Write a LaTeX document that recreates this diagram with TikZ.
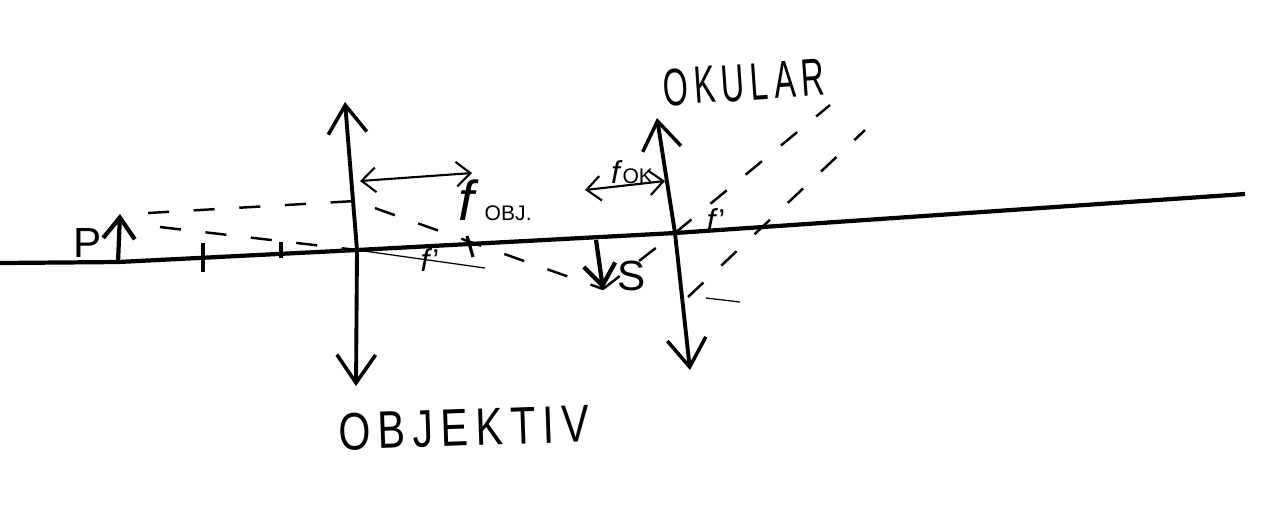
\documentclass[tikz,border=0pt]{standalone}
\usepackage{fontspec}
\setmainfont{Liberation Sans}
\newfontfamily\wide[LetterSpace=18]{Liberation Sans}
\usetikzlibrary{arrows.meta}
\tikzset{
  lens/.style={line width=1.1pt,{Straight Barb[length=8pt,width=11pt,line width=1pt]}-{Straight Barb[length=8pt,width=11pt,line width=1pt]}},
  objarrow/.style={line width=1.2pt,-{Straight Barb[length=6pt,width=9pt,line width=1.2pt]}},
  dim/.style={line width=.6pt,{Straight Barb[length=4pt,width=7pt]}-{Straight Barb[length=4pt,width=7pt]}},
  ray/.style={line width=.7pt,dash pattern=on 6pt off 7pt},
  faint/.style={line width=.35pt},
  tick/.style={line width=.9pt},
  word/.style={font=\fontsize{15}{15}\selectfont\wide,inner sep=0pt},
  lab/.style={font=\fontsize{9}{9}\selectfont,inner sep=0pt}
}
\begin{document}
\begin{tikzpicture}[x=0.01cm,y=-0.01cm]
\useasboundingbox (0,0) rectangle (1280,520);
\coordinate (axisL) at (0,263);
\coordinate (axisR) at (1245,194);
\coordinate (objT) at (345,102);
\coordinate (objC) at (357,250);
\coordinate (objB) at (356,386);
\coordinate (okT) at (657,118);
\coordinate (okC) at (675,233);
\coordinate (okB) at (690,370);
\coordinate (pB) at (118,262);
\coordinate (pT) at (120,214);
\coordinate (sT) at (596,240);
\coordinate (sB) at (603,289);
\coordinate (objH) at (355,201);
\coordinate (okH) at (688,297);
\draw[line width=1.2pt] (axisL) -- (pB) -- (objC) -- (okC) -- (axisR);
\draw[lens] (objT) -- (objC) -- (objB);
\draw[lens] (okT) -- (okC) -- (okB);
\draw[objarrow] (pB) -- (pT);
\draw[objarrow] (sT) -- (sB);
\draw[ray] (148,213) -- (objH) -- (sB);
\draw[ray] (160,227) -- (objC);
\draw[faint] (objC) -- (485,268);
\draw[ray] (sB) -- (okC) -- (830,105);
\draw[ray] (okH) -- (865,130);
\draw[faint] (706,298) -- (740,302);
\draw[dim] (360,181) -- (472,173);
\draw[dim] (585,190) -- (665,181);
\draw[tick] (203,243) -- (203,272);
\draw[tick] (281,242) -- (281,258);
\draw[tick] (467,236) -- (473,257);
\node[lab] (pLabel) at (88,243) {\fontsize{12}{12}\selectfont P};
\node[lab] (sLabel) at (632,276) {\fontsize{12}{12}\selectfont S};
\node[lab] (fObj) at (466,200) {\fontsize{16}{16}\selectfont\itshape f};
\node[lab,anchor=west] (obj) at (484,213) {\fontsize{6}{6}\selectfont OBJ.};
\node[lab] (fOk) at (632,172) {\itshape f\/\upshape\fontsize{6}{6}\selectfont OK};
\node[lab] (fA) at (430,260) {\itshape f\/\upshape '};
\node[lab] (fB) at (716,220) {\itshape f\/\upshape '};
\node[word,anchor=west] (objektiv) at (338,432) [rotate=2] {\scalebox{.78}[1]{OBJEKTIV}};
\node[word,anchor=west] (okular) at (663,88) [rotate=4] {\scalebox{.61}[1]{OKULAR}};
\end{tikzpicture}
\end{document}
